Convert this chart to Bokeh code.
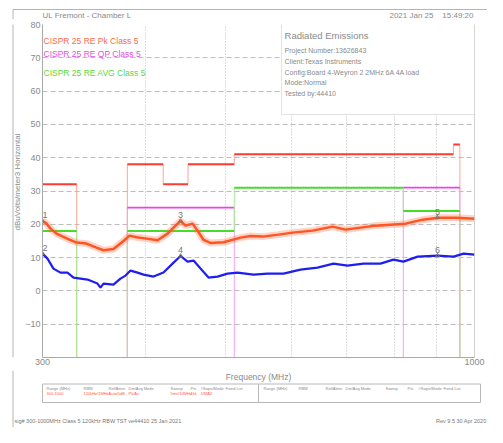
import math
from bokeh.plotting import figure
from bokeh.layouts import column, row
from bokeh.models import Label, BoxAnnotation, Span, FixedTicker, Range1d, ColumnDataSource
from bokeh.core.properties import value
from bokeh.embed import file_html
from bokeh.resources import INLINE

FONT = "Liberation Sans"
GRAY = "#8a8a8a"

# ---------------- data ----------------
pk_start = [300, 380, 420, 450, 512, 943]
pk_stop = [330, 420, 450, 512, 943, 960]
pk_level = [32, 38, 32, 38, 41, 44]

qp_start = [380, 820]
qp_stop = [512, 960]
qp_level = [25, 31]

av_start = [300, 380, 512, 820]
av_stop = [330, 512, 820, 960]
av_level = [18, 18, 31, 24]

pk_freq = [300, 303.4, 306.8, 311.9, 320.8, 329.8, 339.1, 348.7, 355.6, 365.6, 376.0, 382.3,
           389.9, 400.9, 413.4, 425.1, 432.3, 440.8, 446.9, 455.8, 463.5, 470.0, 479.3, 496.9,
           521.0, 535.7, 553.9, 579.2, 602.2, 636.8, 673.2, 698.0, 728.0, 759.0, 825.3, 865.4,
           904.9, 948.7, 1000]
pk_val = [21.0, 20.2, 18.7, 17.2, 15.8, 14.5, 14.2, 13.0, 12.2, 12.6, 15.0, 16.6,
          16.1, 15.7, 15.2, 17.2, 19.0, 21.0, 19.6, 20.2, 17.6, 15.3, 14.4, 14.6,
          16.0, 16.5, 16.3, 16.9, 17.5, 18.1, 19.3, 18.4, 19.0, 19.6, 20.2, 21.4,
          22.0, 22.0, 21.7]

av_freq = [300, 304.2, 309.3, 315.4, 321.6, 327.1, 340.1, 349.7, 352.6, 355.6, 365.6, 372.8,
           378.1, 383.4, 391.0, 397.6, 408.8, 420.3, 432.3, 440.8, 449.4, 457.0, 466.0, 476.5,
           488.6, 502.4, 516.6, 540.1, 561.7, 587.3, 615.7, 645.6, 675.1, 701.9, 733.9, 769.4,
           797.8, 820.3, 853.4, 902.3, 943.4, 970.1, 1000]
av_val = [11.2, 9.7, 6.7, 5.5, 5.5, 4.0, 3.4, 2.2, 1.0, 2.2, 1.9, 3.7,
          4.6, 6.1, 5.5, 4.9, 4.3, 5.5, 8.5, 10.5, 8.8, 9.1, 6.7, 4.0,
          4.3, 5.2, 5.5, 4.9, 5.2, 5.2, 6.4, 7.0, 8.2, 7.6, 8.2, 8.2,
          9.4, 8.8, 10.3, 10.6, 10.3, 11.2, 10.9]

mk_label = ["1", "2", "3", "4", "5", "6"]
mk_freq = [300, 300, 440.8, 440.8, 902, 902]
mk_val = [21.0, 11.2, 21.0, 10.5, 22.0, 10.6]

y_ticks = [-10, 0, 10, 20, 30, 40, 50, 60, 70, 80]
x_label_ticks = [300, 1000]
x_grid_ticks = [400, 500, 600, 700, 800, 900]

x_title = "Frequency (MHz)"
y_title = "dBuVolts/meter3 Horizontal"
info_title = "Radiated Emissions"
info_lines = ["Project Number:13626843", "Client:Texas Instruments",
              "Config:Board 4-Weyron 2 2MHz 6A 4A load", "Mode:Normal", "Tested by:44410"]
legend_texts = ["CISPR 25 RE Pk Class 5", "CISPR 25 RE QP Class 5", "CISPR 25 RE AVG Class 5"]
legend_colors = ["#ff6a50", "#e050e0", "#5cd840"]

table_heads = ["Range (MHz)", "RBW", "Ref/Atten", "Det/Avg Mode", "Sweep", "Pts", "#Swps/Mode", "Fixed List"]
table_vals = ["300-1000", "120kHz/1MHz", "Auto/0dB", "Pk/Av", "5ms/10MHz", "1kk", "1/MAX", ""]


def strip(w, h, xr, yr):
    f = figure(width=w, height=h, x_range=Range1d(*xr), y_range=Range1d(*yr),
               output_backend="svg", toolbar_location=None, min_border=0,
               x_axis_location=None, y_axis_location=None)
    f.grid.visible = False
    f.outline_line_color = None
    f.background_fill_color = "white"
    f.border_fill_color = "white"
    return f


LINE = "#b4b4b4"
TOP_H = 19      # page y 0..19
MID_B = 370     # middle row ends at page y 370
LEFT_W = 22

# ---------------- top strip ----------------
top = strip(487, TOP_H, (0, 487), (TOP_H, 0))
top.segment(x0=[12.5, 12.5], y0=[9, 9], x1=[487, 12.5], y1=[9, TOP_H], line_color=LINE, line_width=1)
top.text(x=[42], y=[15], text=["UL Fremont - Chamber L"], text_font=value(FONT),
         text_font_size="8px", text_color=GRAY, text_baseline="middle")
top.text(x=[433, 473], y=[15, 15], text=["2021 Jan 25", "15:49:20"], text_font=value(FONT),
         text_font_size="8px", text_color=GRAY, text_baseline="middle", text_align="right")

# ---------------- left strip ----------------
left = strip(LEFT_W, MID_B - TOP_H, (0, LEFT_W), (MID_B, TOP_H))
left.segment(x0=[12.5], y0=[TOP_H], x1=[12.5], y1=[MID_B], line_color=LINE, line_width=1)
left.text(x=[17.3], y=[185], text=[y_title], angle=math.pi / 2, text_font=value(FONT),
          text_font_size="8px", text_color=GRAY, text_align="center", text_baseline="middle")

# ---------------- main plot ----------------
p = figure(frame_width=432, frame_height=333, x_axis_type="log",
           x_range=Range1d(300, 1000), y_range=Range1d(-20, 80),
           output_backend="svg", toolbar_location=None,
           min_border_left=42 - LEFT_W, min_border_right=13,
           min_border_top=24 - TOP_H, min_border_bottom=MID_B - 357)
p.outline_line_color = None
p.background_fill_color = "white"
p.border_fill_color = "white"

p.yaxis.ticker = FixedTicker(ticks=y_ticks)
p.xaxis.ticker = FixedTicker(ticks=x_label_ticks)
p.xgrid.ticker = FixedTicker(ticks=x_grid_ticks)
p.ygrid.ticker = FixedTicker(ticks=y_ticks)
p.xgrid.grid_line_color = "#bcbcbc"
p.xgrid.grid_line_dash = "1 2"
p.ygrid.grid_line_color = "#bcbcbc"
p.ygrid.grid_line_dash = "5 3"
p.xaxis.major_label_overrides = {300: "300", 1000: "1000"}

for ax in (p.xaxis[0], p.yaxis[0]):
    ax.axis_line_color = "#a8a8a8"
    ax.major_tick_line_color = None
    ax.minor_tick_line_color = None
    ax.major_tick_out = 0
    ax.major_tick_in = 0
    ax.minor_tick_out = 0
    ax.minor_tick_in = 0
    ax.major_label_text_font = FONT
    ax.major_label_text_font_size = "9px"
    ax.major_label_text_color = GRAY

p.yaxis.major_label_standoff = 2
p.xaxis.major_label_standoff = 1

p.add_layout(Span(location=1000, dimension="height", line_color="#a8a8a8", line_width=1))


def draw_limit(starts, stops, levels, color, vcolor, hw):
    vx, vy0, vy1 = [], [], []
    n = len(starts)
    for i in range(n):
        if i == 0 or starts[i] != stops[i - 1]:
            vx.append(starts[i]); vy0.append(-20); vy1.append(levels[i])
        else:
            vx.append(starts[i]); vy0.append(levels[i - 1]); vy1.append(levels[i])
        if i == n - 1 or stops[i] != starts[i + 1]:
            vx.append(stops[i]); vy0.append(levels[i]); vy1.append(-20)
    p.segment(x0=vx, y0=vy0, x1=vx, y1=vy1, line_color=vcolor, line_width=1)
    p.segment(x0=starts, y0=levels, x1=stops, y1=levels, line_color=color, line_width=hw)


draw_limit(pk_start, pk_stop, pk_level, "#ff3a2e", "#ffa494", 2)
draw_limit(qp_start, qp_stop, qp_level, "#ee40ee", "#f4a0f4", 1.6)
draw_limit(av_start, av_stop, av_level, "#45dc2c", "#a4ec94", 2)

p.line(pk_freq, pk_val, line_color="#ff6a3a", line_width=7, line_alpha=0.3)
p.line(pk_freq, pk_val, line_color="#ff5424", line_width=2.5)
p.line(av_freq, av_val, line_color="#1e1ef0", line_width=2.2)

msrc = ColumnDataSource(dict(f=mk_freq, v=mk_val, t=mk_label,
                             al=["left", "left", "center", "center", "center", "center"]))
p.scatter("f", "v", source=msrc, marker="triangle", size=4, fill_color=None, line_color="#777777")
p.text("f", "v", text="t", source=msrc, text_font=value(FONT), text_font_size="9px",
       text_color="#777777", text_align="al", text_baseline="bottom", y_offset=-3)


def fx(cx):
    return 300 * 10 ** ((cx - 42) / 826.0)


def fy(cy):
    return (357 - cy) / 3.33 - 20


def lab(cx, cy, text, size, color=GRAY):
    p.add_layout(Label(x=fx(cx), y=fy(cy), text=text, text_font=FONT,
                       text_font_size=f"{size}px", text_color=color, text_baseline="middle"))


p.add_layout(BoxAnnotation(left=fx(281), right=1000, top=fy(22), bottom=fy(114),
                           fill_color="white", fill_alpha=1, line_color="#a0a0a0", line_width=1))
lab(284, 35, info_title, 9.5)
for i, t in enumerate(info_lines):
    lab(284, 50 + i * 10.8, t, 7)
for t, c, cy in zip(legend_texts, legend_colors, [40, 53, 72]):
    lab(43, cy, t, 8.5, c)

# ---------------- bottom strip ----------------
bot = strip(487, 427 - MID_B, (0, 487), (427, MID_B))
bot.segment(x0=[12.5], y0=[MID_B], x1=[12.5], y1=[427], line_color=LINE, line_width=1)
bot.text(x=[258], y=[376], text=[x_title], text_font=value(FONT), text_font_size="8.5px",
         text_color=GRAY, text_align="center", text_baseline="middle")
bot.quad(left=[42], right=[480], top=[383.5], bottom=[402], fill_color=None, line_color="#b8b8b8")
bot.segment(x0=[258], y0=[383.5], x1=[258], y1=[402], line_color="#b8b8b8")
hx_left = [46, 83, 108, 128, 170, 190, 200, 225]
hx_right = [263, 298, 325, 345, 385, 407, 418, 443]
bot.text(x=hx_left + hx_right, y=[388] * 16, text=table_heads + table_heads, text_font=value(FONT),
         text_font_size="4px", text_color=GRAY, text_baseline="middle")
bot.text(x=hx_left, y=[393] * 8, text=table_vals, text_font=value(FONT),
         text_font_size="4px", text_color="#ff5a3a", text_baseline="middle")
bot.text(x=[14], y=[420], text=["sig# 300-1000MHz Class 5 120kHz RBW TST ve44410 25 Jan 2021"],
         text_font=value(FONT), text_font_size="5.5px", text_color="#777777", text_baseline="middle")
bot.text(x=[486], y=[420], text=["Rev 9.5 30 Apr 2020"], text_font=value(FONT),
         text_font_size="5.5px", text_color="#777777", text_baseline="middle", text_align="right")

layout = column(top, row(left, p, spacing=0), bot, spacing=0)

open("out.html", "w").write(file_html(layout, INLINE))
